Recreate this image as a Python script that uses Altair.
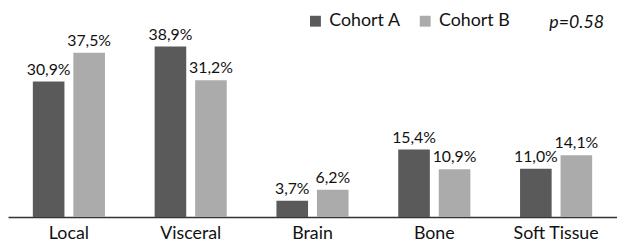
import altair as alt
import pandas as pd

categories = ["Local", "Visceral", "Brain", "Bone", "Soft Tissue"]
cohort_a = [30.9, 38.9, 3.7, 15.4, 11.0]
cohort_b = [37.5, 31.2, 6.2, 10.9, 14.1]
cohorts = ["Cohort A", "Cohort B"]
p_label = ["p=0.58"]

rows = []
for c, a, b in zip(categories, cohort_a, cohort_b):
    for name, v in (("Cohort A", a), ("Cohort B", b)):
        rows.append({"cat": c, "cohort": name, "value": v,
                     "label": f"{v:.1f}".replace(".", ",") + "%"})
df = pd.DataFrame(rows)
cat_df = pd.DataFrame({"cat": categories})

FONT = "Lato"

x = alt.X("cat:N", sort=categories, title=None,
          scale=alt.Scale(paddingInner=0.408, paddingOuter=0.204),
          axis=alt.Axis(labels=False, ticks=False, domainColor="#333333",
                        domainWidth=1.5, grid=False))
xo = alt.XOffset("cohort:N", sort=cohorts,
                 scale=alt.Scale(paddingInner=0.22, paddingOuter=0))
y = alt.Y("value:Q", scale=alt.Scale(domain=[0, 47.4], nice=False), axis=None)

bars = alt.Chart(df).mark_bar().encode(
    x=x, xOffset=xo, y=y,
    color=alt.Color("cohort:N", sort=cohorts,
                    scale=alt.Scale(domain=cohorts, range=["#5a5a5a", "#ababab"]),
                    legend=alt.Legend(orient="none", legendX=302, legendY=3,
                                      direction="horizontal", title=None,
                                      symbolType="square", symbolSize=121,
                                      symbolStrokeWidth=0, labelFont=FONT,
                                      labelFontSize=18, labelColor="#111111",
                                      columnPadding=15, labelOffset=5)),
)

labels = alt.Chart(df).mark_text(font=FONT, fontSize=16, color="#111111",
                                 baseline="alphabetic", dy=-7).encode(
    x=x, xOffset=xo, y=y, text="label:N")

cat_labels = alt.Chart(cat_df).mark_text(
    font=FONT, fontSize=18, color="#111111", baseline="alphabetic",
    align="center").encode(
    x=alt.X("cat:N", sort=categories, title=None,
            scale=alt.Scale(paddingInner=0.408, paddingOuter=0.204)),
    y=alt.value(232), text="cat:N")

ptext = alt.Chart(pd.DataFrame({"t": p_label})).mark_text(
    font=FONT, fontSize=18, fontStyle="italic", color="#111111",
    align="right", baseline="alphabetic").encode(
    x=alt.value(603), y=alt.value(19), text="t:N")

chart = alt.layer(bars, labels, cat_labels, ptext).properties(
    width=616, height=210,
    autosize=alt.AutoSizeParams(type="none"),
    padding={"left": 0, "top": 0, "right": 0, "bottom": 26},
).configure_view(stroke=None)

chart.save("out.html", embed_options={"renderer": "svg", "actions": False})
